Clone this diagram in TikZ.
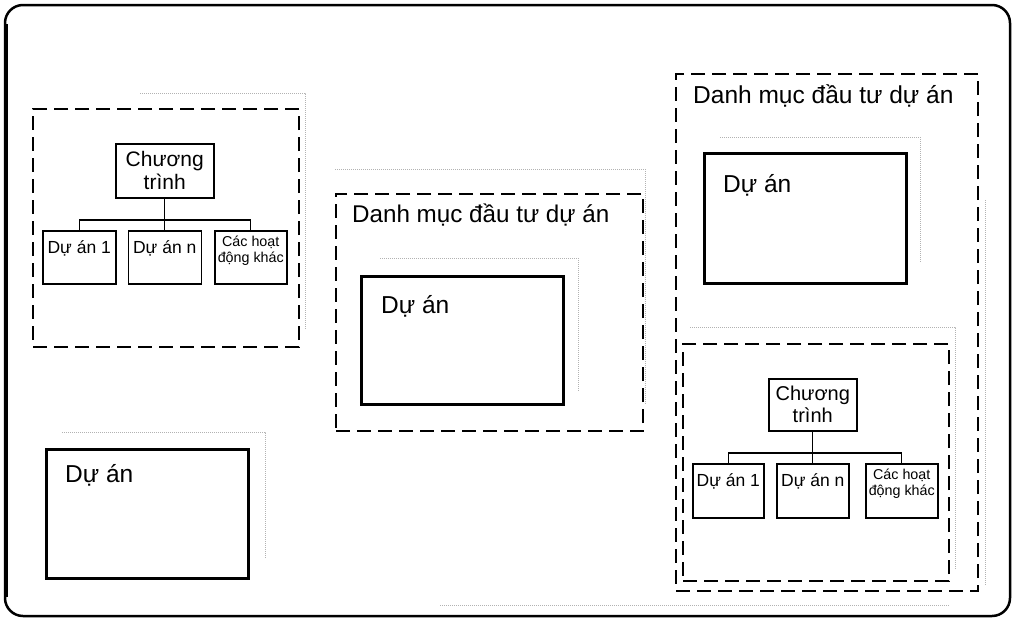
\documentclass[tikz,border=0pt]{standalone}
\usepackage{fontspec}
\setmainfont{Liberation Sans}
\begin{document}
\begin{tikzpicture}[x=1pt,y=-1pt,
  dashbox/.style={draw=black, line width=2pt, dash pattern=on 14pt off 7pt, rectangle, inner sep=0pt},
  bigbox/.style={draw=black, line width=2.6pt, rectangle, inner sep=0pt, fill=white},
  smallbox/.style={draw=black, line width=1.5pt, rectangle, inner sep=0pt, fill=white},
  lbl/.style={inner sep=0pt, anchor=base west},
  bigfont/.style={font=\fontsize{24.5}{28}\selectfont},
  titlefont/.style={font=\fontsize{24.2}{28}\selectfont},
  ctfont/.style={font=\fontsize{21}{23}\selectfont, align=center},
  dafont/.style={font=\fontsize{17.5}{19}\selectfont, align=center},
  smfont/.style={font=\fontsize{14.3}{15.5}\selectfont, align=center},
  conn/.style={draw=black, line width=1.3pt},
  faint/.style={draw=black!30, line width=1pt, densely dotted}
]
\useasboundingbox (0,0) rectangle (1015,621);
% outer frame
\draw[line width=2.5pt, rounded corners=18pt] (5,5) rectangle (1010,616);
\draw[line width=4.5pt] (6,24) -- (6,597);

% faint scan shadows
\draw[faint] (140,93) -- (305,93) -- (305,330);
\draw[faint] (335,169) -- (645,169) -- (645,405);
\draw[faint] (380,258) -- (578,258) -- (578,392);
\draw[faint] (720,137) -- (920,137) -- (920,262);
\draw[faint] (690,327) -- (955,327) -- (955,570);
\draw[faint] (985,200) -- (985,585);
\draw[faint] (440,605) -- (950,605);
\draw[faint] (62,432) -- (265,432) -- (265,558);

% ---------- Group 1: program ----------
\node[dashbox, minimum width=266, minimum height=238, anchor=north west] (g1) at (32,108) {};
\node[smallbox, minimum width=98, minimum height=54, anchor=north west] (ct1) at (115,143) {};
\node[ctfont, inner sep=0pt] (ct1t) at (ct1.center) {Chương\\trình};
\node[smallbox, minimum width=73, minimum height=53, anchor=north west] (d11) at (42,230) {};
\node[dafont, inner sep=0pt, anchor=north] (d11t) at ([yshift=-10]d11.north) {Dự án 1};
\node[smallbox, minimum width=73, minimum height=53, anchor=north west] (dn1) at (127.5,230) {};
\node[dafont, inner sep=0pt, anchor=north] (dn1t) at ([yshift=-10]dn1.north) {Dự án n};
\node[smallbox, minimum width=72, minimum height=53, anchor=north west] (c1) at (214,230) {};
\node[smfont, inner sep=0pt, anchor=north] (c1t) at ([yshift=-6]c1.north) {Các hoạt\\động khác};
\coordinate (bus1) at (164,220);
\draw[conn] (ct1.south) -- (dn1.north);
\draw[conn] (d11.north) |- (bus1) -| (c1.north);

% ---------- Group 2: portfolio with project ----------
\node[dashbox, minimum width=307, minimum height=237, anchor=north west] (g2) at (335,193) {};
\node[lbl, titlefont] (g2t) at (352,222) {Danh mục đầu tư dự án};
\node[bigbox, minimum width=202, minimum height=128, anchor=north west] (p2) at (360,275) {};
\node[lbl, bigfont] (p2t) at (381,313) {Dự án};

% ---------- Group 3: portfolio with project and program ----------
\node[dashbox, minimum width=302, minimum height=517, anchor=north west] (g3) at (675,73) {};
\node[lbl, bigfont] (g3t) at (693,103) {Danh mục đầu tư dự án};
\node[bigbox, minimum width=202, minimum height=130, anchor=north west] (p3) at (703,152) {};
\node[lbl, bigfont] (p3t) at (723,192) {Dự án};
\node[dashbox, minimum width=266, minimum height=237, anchor=north west] (g4) at (682,343) {};
\node[smallbox, minimum width=88, minimum height=52, anchor=north west] (ct2) at (768,378) {};
\node[ctfont, font=\fontsize{20}{22}\selectfont, inner sep=0pt] (ct2t) at (ct2.center) {Chương\\trình};
\node[smallbox, minimum width=71, minimum height=54, anchor=north west] (d12) at (692,463) {};
\node[dafont, inner sep=0pt, anchor=north] (d12t) at ([yshift=-10]d12.north) {Dự án 1};
\node[smallbox, minimum width=72, minimum height=54, anchor=north west] (dn2) at (776,463) {};
\node[dafont, inner sep=0pt, anchor=north] (dn2t) at ([yshift=-10]dn2.north) {Dự án n};
\node[smallbox, minimum width=72, minimum height=54, anchor=north west] (c2) at (865,463) {};
\node[smfont, inner sep=0pt, anchor=north] (c2t) at ([yshift=-6]c2.north) {Các hoạt\\động khác};
\coordinate (bus2) at (812,453);
\draw[conn] (ct2.south) -- (dn2.north);
\draw[conn] (d12.north) |- (bus2) -| (c2.north);

% ---------- Group 4: single project ----------
\node[bigbox, minimum width=202, minimum height=129, anchor=north west] (p4) at (45,448) {};
\node[lbl, bigfont] (p4t) at (65,482) {Dự án};
\end{tikzpicture}
\end{document}
